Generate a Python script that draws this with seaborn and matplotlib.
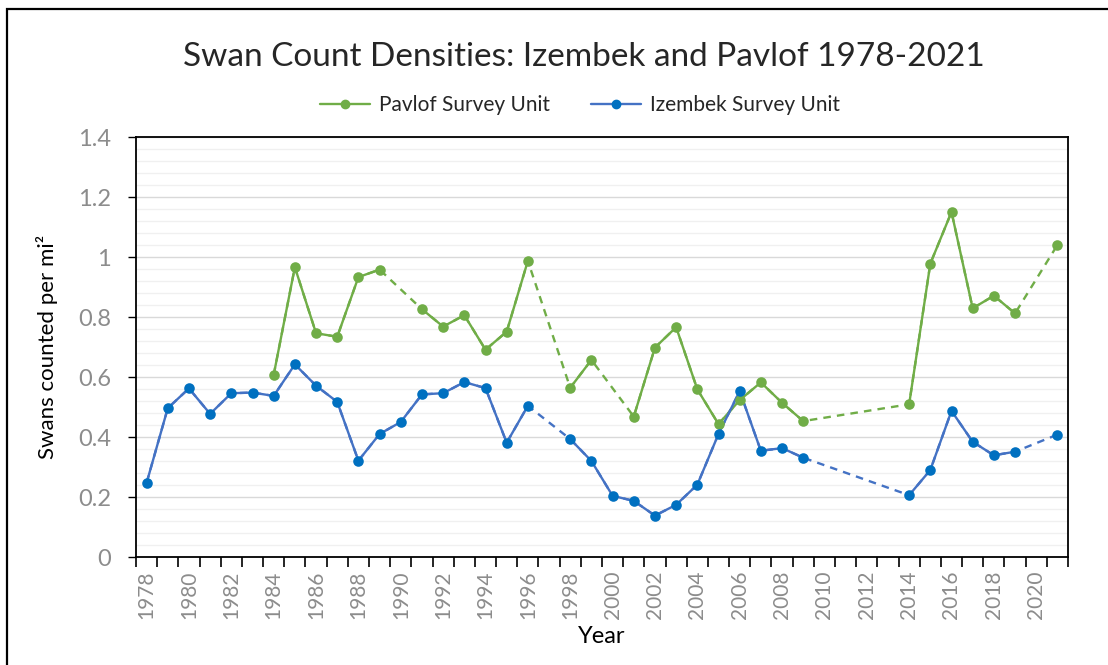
import numpy as np
import pandas as pd
import seaborn as sns
import matplotlib.pyplot as plt
from matplotlib.lines import Line2D
from matplotlib.patches import Rectangle
from matplotlib.ticker import FixedLocator

years = list(range(1978, 2022))
# swans counted per square mile, None = no survey that year
izembek = [0.247, 0.496, 0.562, 0.477, 0.546, 0.548, 0.537, 0.642, 0.571, 0.517,
           0.321, 0.410, 0.450, 0.542, 0.546, 0.583, 0.563, 0.381, 0.504, None,
           0.393, 0.320, 0.204, 0.187, 0.138, 0.174, 0.241, 0.410, 0.553, 0.354,
           0.363, 0.331, None, None, None, None, 0.206, 0.290, 0.487, 0.384,
           0.339, 0.351, None, 0.408]
pavlof = [None, None, None, None, None, None, 0.607, 0.966, 0.746, 0.734,
          0.933, 0.958, None, 0.826, 0.768, 0.806, 0.691, 0.751, 0.987, None,
          0.564, 0.657, None, 0.468, 0.698, 0.766, 0.559, 0.443, 0.523, 0.582,
          0.514, 0.453, None, None, None, None, 0.509, 0.978, 1.150, 0.829,
          0.871, 0.812, None, 1.040]
series_names = ["Pavlof Survey Unit", "Izembek Survey Unit"]
title = "Swan Count Densities: Izembek and Pavlof 1978-2021"
y_ticks = [0, 0.2, 0.4, 0.6, 0.8, 1.0, 1.2, 1.4]
y_tick_labels = ["0", "0.2", "0.4", "0.6", "0.8", "1", "1.2", "1.4"]

line_colors = {"Pavlof Survey Unit": "#70AD47", "Izembek Survey Unit": "#4472C4"}
marker_colors = {"Pavlof Survey Unit": "#70AD47", "Izembek Survey Unit": "#0070C0"}

sns.set_style("white")
plt.rcParams["font.family"] = ["Lato", "DejaVu Sans"]

fig = plt.figure(figsize=(11.08, 6.65), dpi=100)
ax = fig.add_axes([136 / 1108, 1 - 557 / 665, 932 / 1108, 420 / 665])

lw = 1.7
for name, vals in zip(series_names, [pavlof, izembek]):
    df = pd.DataFrame({"year": years, "val": pd.Series(vals, dtype=float)})
    # consecutive survey years form one solid run, gaps get a dashed bridge
    df["run"] = df["val"].isna().cumsum()
    obs = df.dropna()
    sns.lineplot(data=obs, x="year", y="val", color=line_colors[name], lw=lw,
                 linestyle=(0, (3.2, 2.6)), estimator=None, ax=ax, zorder=3)
    sns.lineplot(data=obs, x="year", y="val", units="run", estimator=None,
                 color=line_colors[name], lw=lw, ax=ax, zorder=4)
    sns.scatterplot(data=obs, x="year", y="val", color=marker_colors[name],
                    s=58, edgecolor=marker_colors[name], linewidth=0, ax=ax, zorder=5)

ax.set_xlim(1977.5, 2021.5)
ax.set_ylim(0, 1.4)
ax.yaxis.set_major_locator(FixedLocator(y_ticks))
ax.yaxis.set_minor_locator(FixedLocator(np.arange(0.04, 1.4, 0.04)))
ax.set_yticklabels(y_tick_labels)
ax.grid(which="minor", axis="y", color="#F0F0F0", lw=1.0, zorder=0)
ax.grid(which="major", axis="y", color="#D9D9D9", lw=1.0, zorder=1)
ax.set_axisbelow(True)

ax.xaxis.set_major_locator(FixedLocator(years[::2]))
ax.xaxis.set_minor_locator(FixedLocator(np.arange(1977.5, 2022, 1.0)))
ax.set_xticklabels([str(y) for y in years[::2]], rotation=90)
ax.tick_params(axis="x", which="major", length=0, pad=10, labelsize=15, labelcolor="#8C8C8C")
ax.tick_params(axis="x", which="minor", length=7, width=1.2, direction="out", color="black", bottom=True)
ax.tick_params(axis="y", which="major", length=6, width=1.0, direction="out", color="black",
               left=True, labelsize=17, labelcolor="#8C8C8C", pad=12)
ax.tick_params(axis="y", which="minor", length=0)
for s in ax.spines.values():
    s.set_color("black")
    s.set_linewidth(1.3)
    s.set_visible(True)

ax.set_xlabel("Year", fontsize=17, color="black", labelpad=5)
ax.set_ylabel("Swans counted per mi²", fontsize=16, color="black", labelpad=14)

fig.text(584 / 1108, 1 - 57 / 665, title, ha="center", va="center", fontsize=24)
handles = [Line2D([], [], color=line_colors[n], lw=lw, marker="o", markersize=6,
                  markerfacecolor=marker_colors[n], markeredgecolor=marker_colors[n])
           for n in series_names]
fig.legend(handles, series_names, loc="center", bbox_to_anchor=(580 / 1108, 1 - 105 / 665),
           ncol=2, frameon=False, fontsize=15, handlelength=2.4, columnspacing=2.0,
           handletextpad=0.4)

fig.patches.append(Rectangle((7 / 1108, -0.1), 1.2, 1.1 - 9 / 665, transform=fig.transFigure,
                             fill=False, edgecolor="black", lw=1.6, clip_on=False))

fig.savefig("out.png", dpi=100)
